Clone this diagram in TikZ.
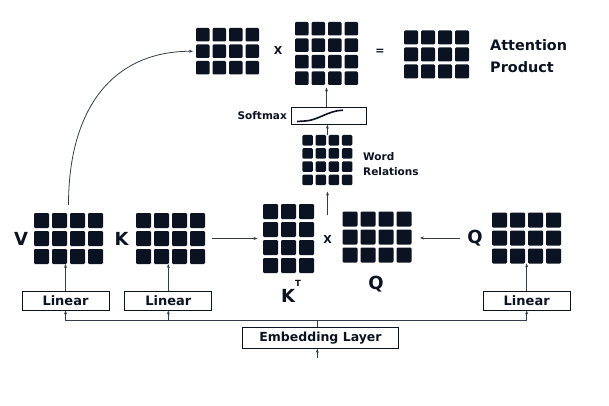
\documentclass[tikz,border=0pt]{standalone}
\usepackage{fontspec}
\setmainfont{DejaVu Sans}
\usetikzlibrary{arrows.meta}
\definecolor{navy}{RGB}{11,18,33}
\definecolor{wirecol}{RGB}{52,60,74}
% grid of cells: name, left, top, cols, rows, cell size, gap
\newcommand{\cells}[7]{%
  \pgfmathsetmacro{\gridw}{#4*#6+(#4-1)*#7}
  \pgfmathsetmacro{\gridh}{#5*#6+(#5-1)*#7}
  \node[minimum width=\gridw pt, minimum height=\gridh pt, inner sep=0pt, outer sep=0pt, anchor=north west] (#1) at (#2,#3) {};
  \foreach \i in {1,...,#4}
    \foreach \j in {1,...,#5}
      \fill[navy, rounded corners=1.2pt] ({#2+(\i-1)*(#6+#7)},{#3+(\j-1)*(#6+#7)}) rectangle ++(#6,#6);
}
\begin{document}
\begin{tikzpicture}[x=1pt, y=-1pt, font=\bfseries, text=navy,
    box/.style={draw=navy, line width=0.9pt, inner sep=0pt, minimum height=19pt, font=\fontsize{13}{13}\selectfont\bfseries},
    big/.style={font=\fontsize{18}{18}\selectfont\bfseries, inner sep=0pt},
    op/.style={font=\fontsize{11}{11}\selectfont\bfseries, inner sep=0pt},
    small/.style={font=\fontsize{10.5}{15.7}\selectfont\bfseries, inner sep=0pt, align=left},
    wire/.style={draw=wirecol, line width=0.8pt},
    >={Stealth[length=4pt, width=3pt]}]
  \useasboundingbox (0,0) rectangle (609,406);
  \cells{V}{34}{213}{4}{3}{15}{3}
  \cells{K}{136}{213}{4}{3}{15}{3}
  \cells{KT}{263}{204}{3}{4}{15}{3}
  \cells{Qm}{342.5}{211.5}{4}{3}{15}{3}
  \cells{Q}{492}{212.5}{4}{3}{15}{3}
  \cells{W}{302.3}{135}{4}{4}{10.5}{2.7}
  \cells{A}{196}{28}{4}{3}{13.5}{3}
  \cells{S}{295}{22}{4}{4}{13.5}{3}
  \cells{R}{404}{30.5}{4}{3}{14}{3}
  \node[big] (lV) at (21,238.5) {V};
  \node[big] (lK) at (121.5,238.5) {K};
  \node[big] (lQ) at (475,238) {Q};
  \node[big] (lQm) at (376,284) {Q};
  \node[big, anchor=base west] (lKT) at (281,302.7) {K\raisebox{16pt}{\fontsize{8.5}{8.5}\selectfont T}};
  \node[op] (x1) at (278,50) {X};
  \node[op] (eq) at (380,51.5) {=};
  \node[op] (x2) at (327.5,239.5) {X};
  \node[anchor=west, align=left, inner sep=0pt, font=\fontsize{14.4}{21.5}\selectfont\bfseries] (att) at (490,56) {Attention\\Product};
  \node[box, minimum width=75pt, minimum height=16.6pt] (soft) at (329.2,116) {};
  \draw[navy, line width=1.6pt] (297,121.5) -- (305,121) .. controls (318,120.5) and (328,110.5) .. (343,110.2);
  \node[small, anchor=east] (lsoft) at (287,115.7) {Softmax};
  \node[small, anchor=west] (lW) at (363,164) {Word\\Relations};
  \node[box, minimum width=87pt] (linV) at (65.5,300.5) {Linear};
  \node[box, minimum width=87pt] (linK) at (168.3,300.5) {Linear};
  \node[box, minimum width=87pt] (linQ) at (526.7,300.5) {Linear};
  \node[box, minimum width=156pt, minimum height=21pt, font=\fontsize{12.5}{12.5}\selectfont\bfseries] (emb) at (320.5,337.8) {Embedding Layer};
  \coordinate (bus) at (317.3,320);
  \coordinate (in) at (317.3,357.5);
  \draw[wire, ->] (in) -- (in |- emb.south);
  \draw[wire] (emb.north -| bus) -- (bus);
  \draw[wire, ->] (bus) -| (linV.south);
  \draw[wire, ->] (bus) -| (linQ.south);
  \draw[wire, ->] (linK.south |- bus) -- (linK.south);
  \draw[wire, ->] (linV.north) -- (linV.north |- V.south);
  \draw[wire, ->] (linK.north) -- (linK.north |- K.south);
  \draw[wire, ->] (linQ.north) -- (linQ.north |- Q.south);
  \draw[wire, ->, shorten <=6.5pt, shorten >=5.5pt] (K.east) -- (K.east -| KT.west);
  \draw[wire, ->, shorten <=7pt, shorten >=8.5pt] (lQ.west) -- (lQ.west -| Qm.east);
  \draw[wire, ->, shorten <=20pt, shorten >=6.5pt] (x2.north) -- (x2.north |- W.south);
  \draw[wire, ->] (W.north) -- (W.north |- soft.south);
  \draw[wire, ->, shorten >=2.5pt] (S.south |- soft.north) -- (S.south);
  \draw[wire, ->, shorten <=8pt, shorten >=3pt] (V.north) .. controls +(0,-105) and +(-83,0) .. (A.west);
\end{tikzpicture}
\end{document}
